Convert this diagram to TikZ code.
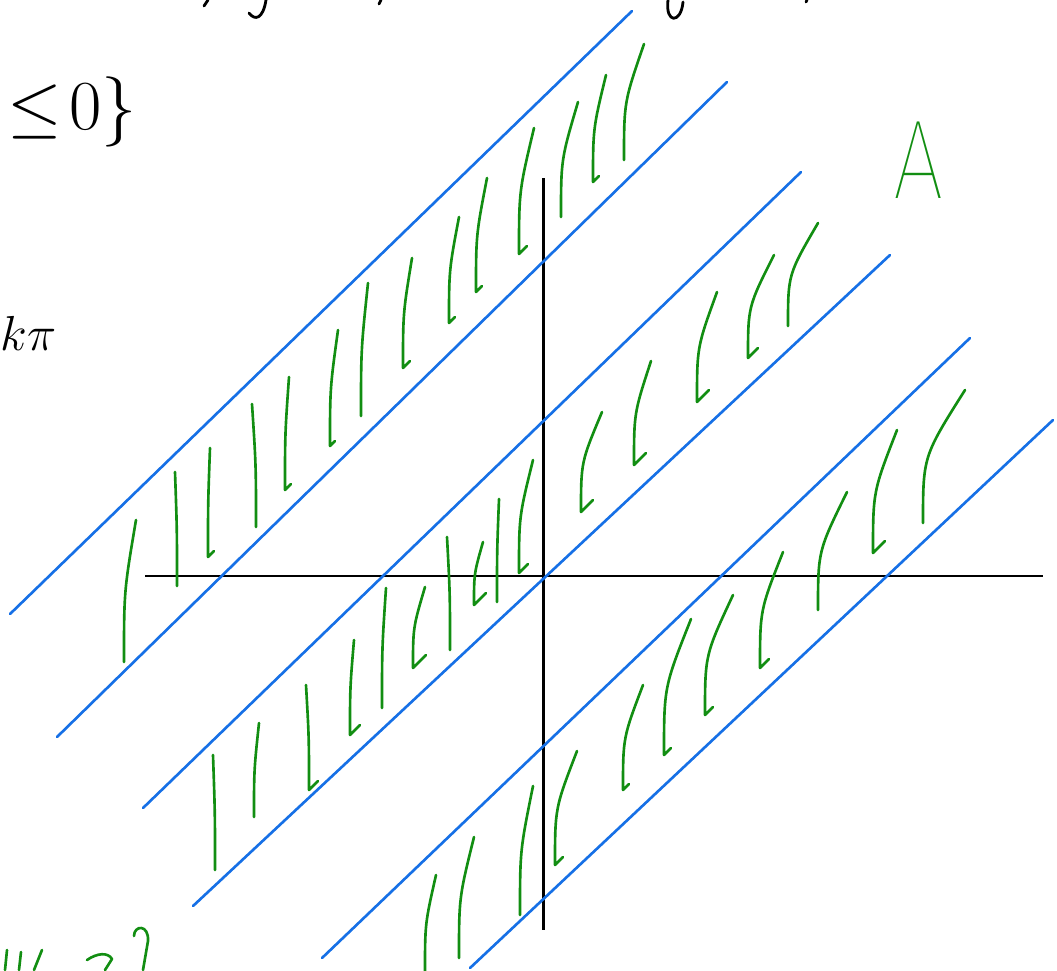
\RequirePackage{fix-cm}
\documentclass[tikz,border=0pt]{standalone}
\usepackage{fontspec}
\newfontfamily\handfont{Fira Sans Thin}
\definecolor{penblue}{RGB}{22,112,230}
\definecolor{pengreen}{RGB}{18,142,18}

\begin{document}
\begin{tikzpicture}[x=0.02cm, y=-0.02cm,
  axis/.style={draw=black, line width=1.6pt},
  bound/.style={draw=penblue, line width=1.5pt, line cap=round},
  hatch/.style={draw=pengreen, line width=1.5pt, line cap=round, line join=round},
  ink/.style={draw=black, line width=1.6pt, line cap=round, line join=round},
  mathlbl/.style={inner sep=0pt, font=\fontsize{40}{44}\selectfont}
]
\useasboundingbox (0,0) rectangle (1057,970);
\clip (0,0) rectangle (1057,970);

% axes
\draw[axis] (145,576) -- (1043,576);
\draw[axis] (543.5,178) -- (543.5,930);

% boundary lines of the strips
\foreach \xa/\ya/\xb/\yb in {10/614/632/11, 57/737/727/82, 143/808/801/172,
                             193/906/890/255, 322/958/970/338, 470/968/1053/420}
  \draw[bound] (\xa,\ya) -- (\xb,\yb);

% hatching of the strips (top x/y, bottom x/y, hook)
\foreach \xt/\yt/\xb/\yb/\hk in {
    136/520/124/662/0, 175/472/177/586/0, 210/448/208/557/6, 252/404/256/527/0,
    289/377/285/490/6, 338/330/330/446/5, 368/283/361/416/0, 412/258/403/368/7,
    459/217/449/323/6, 487/178/476/292/6, 534/128/519/254/8, 578/102/561/217/0,
    606/75/593/182/6, 644/44/624/160/0,
    213/755/215/870/0, 259/723/254/817/0, 306/685/309/790/9, 354/640/350/735/10,
    386/588/382/708/0, 425/587/413/668/13, 447/537/450/650/0, 483/542/474/605/12,
    499/499/497/602/0, 533/460/519/573/9, 602/412/581/512/12, 651/361/634/465/12,
    717/292/697/402/12, 774/255/748/358/10, 818/223/788/326/0,
    436/875/425/972/0, 474/837/459/958/0, 533/786/520/915/0, 577/751/555/865/8,
    643/685/623/790/6, 691/619/664/755/7, 733/595/705/715/8, 783/552/760/668/9,
    847/492/818/610/0, 897/430/873/553/12, 965/390/923/523/0}
  \draw[hatch] (\xt,\yt) .. controls (\xb,{(\yt+\yb)/2}) .. (\xb,\yb) -- ++(\hk,-\hk);

% labels
\node[mathlbl, anchor=center] (cond) at (72,112) {$\leq\!0\}$};
\node[mathlbl, font=\fontsize{28}{32}\selectfont, anchor=base west] (kpi) at (0,350) {$k\pi$};
\node[inner sep=0pt, text=pengreen, font=\handfont\fontsize{64}{64}\selectfont,
      xscale=0.8, anchor=base] (setA) at (919,198) {A};

% cut-off writing at the top edge
\draw[ink] (208,0) -- (204,6);
\draw[ink] (266,0) .. controls (263,19) and (255,21) .. (249,13);
\draw[ink] (381,0) -- (379,4);
\draw[ink] (668,0) .. controls (665,24) and (681,24) .. (683,2);
\draw[ink] (807,0) -- (806,2);

% cut-off writing at the bottom edge
\draw[hatch] (7,950) -- (5,970);
\draw[hatch] (21,952) -- (19,970);
\draw[hatch] (42,950) -- (34,970);
\draw[hatch] (87,960) .. controls (97,953) and (108,952) .. (112,959) -- (105,970);
\draw[hatch] (134,936) .. controls (134,925) and (149,924) .. (148,941) -- (143,970);
\end{tikzpicture}
\end{document}
